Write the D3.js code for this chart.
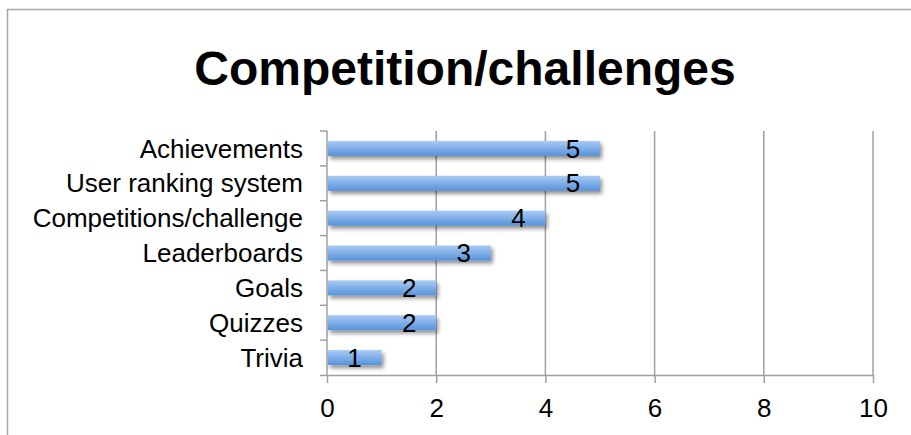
<!DOCTYPE html>
<html><head><meta charset="utf-8">
<script src="https://cdn.jsdelivr.net/npm/d3@7"></script>
<style>body{margin:0;background:#fff}svg{display:block}</style>
</head><body>
<svg id="c" width="911" height="435"></svg>
<script>
const title = "Competition/challenges";
const categories = ["Achievements","User ranking system","Competitions/challenge","Leaderboards","Goals","Quizzes","Trivia"];
const values = [5,5,4,3,2,2,1];
const xTicks = [0,2,4,6,8,10];

const svg = d3.select("#c");
const font = "Arial, 'Liberation Sans', Helvetica, sans-serif";
const m = {left:327, right:873, top:131, bottom:375};

// frame
svg.append("path").attr("d","M7.5,435 V9.5 H911").attr("fill","none").attr("stroke","#a6a6a6").attr("stroke-width",1.5);

const defs = svg.append("defs");
const g = defs.append("linearGradient").attr("id","bg").attr("x1",0).attr("y1",0).attr("x2",0).attr("y2",1);
g.append("stop").attr("offset","0%").attr("stop-color","#a9cbf6");
g.append("stop").attr("offset","100%").attr("stop-color","#5792da");
const f = defs.append("filter").attr("id","sh").attr("x","-10%").attr("y","-50%").attr("width","130%").attr("height","250%");
f.append("feGaussianBlur").attr("in","SourceAlpha").attr("stdDeviation",2).attr("result","b");
f.append("feOffset").attr("in","b").attr("dx",2).attr("dy",3).attr("result","o");
f.append("feComponentTransfer").attr("in","o").attr("result","o2").append("feFuncA").attr("type","linear").attr("slope",0.45);
const mg = f.append("feMerge"); mg.append("feMergeNode").attr("in","o2"); mg.append("feMergeNode").attr("in","SourceGraphic");

const x = d3.scaleLinear().domain([0,10]).range([m.left,m.right]);
const y = d3.scaleBand().domain(categories).range([m.top,m.bottom]).paddingInner(0.57).paddingOuter(0.285);
const yb = d3.scaleBand().domain(categories).range([m.top,m.bottom]);

// gridlines
svg.append("g").selectAll("line").data(xTicks.filter(t=>t>0)).join("line")
  .attr("x1",d=>x(d)).attr("x2",d=>x(d)).attr("y1",m.top).attr("y2",m.bottom)
  .attr("stroke","#a0a0a0").attr("stroke-width",1.5);

// x axis
const xa = svg.append("g").attr("transform",`translate(0,${m.bottom})`)
  .call(d3.axisBottom(x).tickValues(xTicks).tickSize(8).tickPadding(16));
xa.select(".domain").attr("stroke","#a0a0a0").attr("stroke-width",1.5).attr("d",`M${m.left-7},0.5H${m.right}`);
xa.selectAll(".tick line").attr("stroke","#a0a0a0").attr("stroke-width",1.5);
xa.selectAll(".tick text").attr("font-family",font).attr("font-size",26).attr("fill","#000");

// y axis line + ticks at band boundaries
svg.append("line").attr("x1",m.left).attr("x2",m.left).attr("y1",m.top).attr("y2",m.bottom)
  .attr("stroke","#a0a0a0").attr("stroke-width",1.5);
svg.append("g").selectAll("line").data(categories).join("line")
  .attr("x1",m.left-7).attr("x2",m.left).attr("y1",d=>yb(d)).attr("y2",d=>yb(d))
  .attr("stroke","#a0a0a0").attr("stroke-width",1.5);

// category labels
svg.append("g").selectAll("text").data(categories).join("text")
  .attr("x",303).attr("y",d=>yb(d)+yb.bandwidth()/2).attr("dy","0.35em")
  .attr("text-anchor","end").attr("font-family",font).attr("font-size",26).attr("fill","#000").text(d=>d);

// bars
const data = categories.map((c,i)=>({c, v:values[i]}));
svg.append("g").selectAll("rect").data(data).join("rect")
  .attr("x",x(0)+1).attr("y",d=>y(d.c)).attr("width",d=>x(d.v)-x(0)-1).attr("height",y.bandwidth())
  .attr("fill","url(#bg)").attr("filter","url(#sh)");

// value labels
svg.append("g").selectAll("text").data(data).join("text")
  .attr("x",d=>x(d.v)-27).attr("y",d=>y(d.c)+y.bandwidth()/2).attr("dy","0.35em")
  .attr("text-anchor","middle").attr("font-family",font).attr("font-size",26).attr("fill","#000").text(d=>d.v);

// title
svg.append("text").attr("x",465).attr("y",85).attr("text-anchor","middle")
  .attr("font-family",font).attr("font-weight","bold").attr("font-size",48).attr("fill","#000").text(title);
</script>
</body></html>
